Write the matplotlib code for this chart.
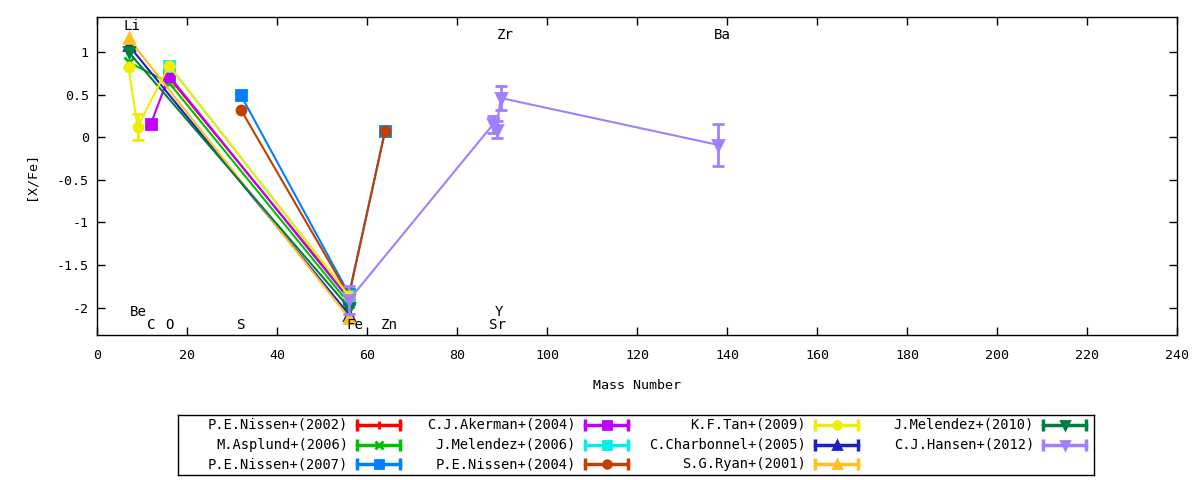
import matplotlib
matplotlib.use("Agg")
import matplotlib.pyplot as plt
from matplotlib.ticker import FuncFormatter, MultipleLocator

plt.rcParams["font.family"] = ["DejaVu Sans Mono"]
plt.rcParams["font.size"] = 9.6
plt.rcParams["axes.unicode_minus"] = False

# element labels (x = mass number, y = where the label sits)
elements = ["Li", "Be", "C", "O", "S", "Fe", "Zn", "Sr", "Y", "Zr", "Ba"]
label_x = [7.8, 9.3, 12.1, 16.2, 32.1, 57.2, 65.0, 88.9, 89.3, 90.8, 139.0]
label_y = [1.3, -2.05, -2.2, -2.2, -2.2, -2.2, -2.2, -2.2, -2.05, 1.2, 1.2]

# series: mass numbers, [X/Fe], errors
names = [
    "P.E.Nissen+(2002)", "M.Asplund+(2006)", "P.E.Nissen+(2007)",
    "C.J.Akerman+(2004)", "J.Melendez+(2006)", "P.E.Nissen+(2004)",
    "K.F.Tan+(2009)", "C.Charbonnel+(2005)", "S.G.Ryan+(2001)",
    "J.Melendez+(2010)", "C.J.Hansen+(2012)",
]
colors = ["#ff0000", "#00c000", "#0080ff", "#c000ff", "#00eeee", "#c04000",
          "#eeee00", "#2020c0", "#ffc020", "#008040", "#a080ff"]
markers = ["+", "x", "s", "s", "s", "o", "o", "^", "^", "v", "v"]

nissen02_x = [16, 56]
nissen02_y = [0.70, -1.88]
asplund06_x = [7, 16, 56]
asplund06_y = [0.88, 0.64, -1.95]
nissen07_x = [32, 56, 64]
nissen07_y = [0.49, -1.84, 0.07]
akerman04_x = [12, 16, 56]
akerman04_y = [0.16, 0.72, -1.90]
melendez06_x = [16, 56]
melendez06_y = [0.84, -1.86]
nissen04_x = [32, 56, 64]
nissen04_y = [0.32, -1.86, 0.07]
tan09_x = [7, 9, 16, 56]
tan09_y = [0.82, 0.12, 0.84, -1.86]
tan09_err = [0.0, 0.15, 0.0, 0.0]
charbonnel05_x = [7, 56]
charbonnel05_y = [1.08, -2.08]
ryan01_x = [7, 56]
ryan01_y = [1.16, -2.12]
melendez10_x = [7, 56]
melendez10_y = [1.00, -2.00]
hansen12_x = [56, 88.0, 88.8, 89.7, 138.0]
hansen12_y = [-1.91, 0.15, 0.09, 0.46, -0.09]
hansen12_err = [0.16, 0.10, 0.10, 0.14, 0.25]

xs = [nissen02_x, asplund06_x, nissen07_x, akerman04_x, melendez06_x, nissen04_x,
      tan09_x, charbonnel05_x, ryan01_x, melendez10_x, hansen12_x]
ys = [nissen02_y, asplund06_y, nissen07_y, akerman04_y, melendez06_y, nissen04_y,
      tan09_y, charbonnel05_y, ryan01_y, melendez10_y, hansen12_y]
errs = [None] * len(names)
errs[6] = tan09_err
errs[10] = hansen12_err


def main() -> None:
    fig = plt.figure(figsize=(12, 4.8), dpi=100)
    ax = fig.add_axes([97 / 1200, 1 - 335 / 480, 1080 / 1200, 318 / 480])

    for x, y, e, c, m in zip(xs, ys, errs, colors, markers):
        ms = 7 if m in "+x" else 6.5
        if e is None:
            ax.plot(x, y, color=c, marker=m, ms=ms, mew=2, lw=1.5)
        else:
            ax.errorbar(x, y, yerr=e, color=c, marker=m, ms=ms, mew=2, lw=1.5,
                        elinewidth=2, capsize=4, capthick=2)

    for name, lx, ly in zip(elements, label_x, label_y):
        ax.text(lx, ly, name, ha="center", va="center", fontsize=10.2)

    ax.set_xlim(0, 240)
    ax.set_ylim(-2.32, 1.41)
    ax.xaxis.set_major_locator(MultipleLocator(20))
    ax.yaxis.set_major_locator(MultipleLocator(0.5))
    ax.yaxis.set_major_formatter(FuncFormatter(lambda v, p: "%g" % round(v, 2)))
    ax.tick_params(direction="in", top=True, right=True, length=6, width=1, pad=10)
    ax.tick_params(axis="y", pad=6)
    for s in ax.spines.values():
        s.set_linewidth(1)
    ax.set_xlabel("Mass Number", labelpad=12)
    ax.set_ylabel("[X/Fe]", labelpad=14)

    # legend box, laid out like gnuplot's key
    lg = fig.add_axes([178 / 1200, 1 - 475 / 480, 916 / 1200, 60 / 480])
    lg.set_xlim(178, 1094)
    lg.set_ylim(475, 415)
    lg.set_xticks([])
    lg.set_yticks([])
    for s in lg.spines.values():
        s.set_linewidth(1)
    col_right = [348, 576, 806, 1034]
    row_y = [425, 445, 464]
    for i, (name, c, m) in enumerate(zip(names, colors, markers)):
        col, row = divmod(i, 3)
        tx = col_right[col]
        ty = row_y[row]
        lg.text(tx, ty, name, ha="right", va="center", fontsize=9.9)
        x0, x1 = tx + 9, tx + 52
        lg.plot([x0, x1], [ty, ty], color=c, lw=2.5)
        lg.plot([x0, x1], [ty, ty], color=c, lw=0, marker="|", ms=8, mew=2.5)
        ms = 6 if m in "+x" else 5.5
        lg.plot([(x0 + x1) / 2], [ty], color=c, marker=m, ms=ms, mew=2)

    fig.savefig("out.png", dpi=100)
    plt.close(fig)


if __name__ == "__main__":
    main()
